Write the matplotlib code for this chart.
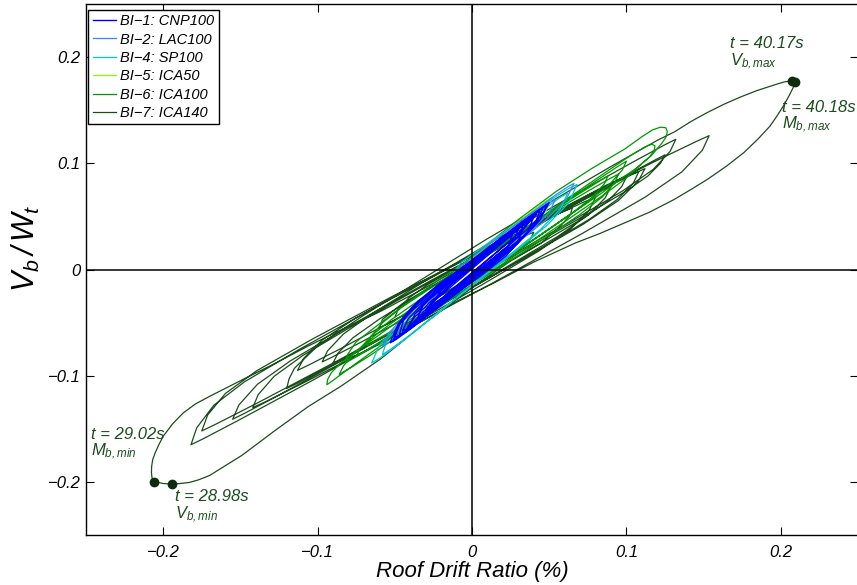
import matplotlib
matplotlib.use('Agg')
import matplotlib.pyplot as plt

plt.rcParams['font.family'] = ['Liberation Sans', 'DejaVu Sans']
plt.rcParams['font.style'] = 'italic'
plt.rcParams['mathtext.fontset'] = 'custom'
plt.rcParams['mathtext.it'] = 'Liberation Sans:italic'
plt.rcParams['mathtext.rm'] = 'Liberation Sans:italic'

labels = ['BI−1: CNP100', 'BI−2: LAC100', 'BI−4: SP100', 'BI−5: ICA50', 'BI−6: ICA100', 'BI−7: ICA140']
colors = ['#0000ff', '#3388ff', '#00c8cc', '#80ff00', '#009900', '#1a4d1a']

bi1 = [
(0.0,0.0),
(0.0045,0.0117),(0.0105,0.0184),(0.018,0.0264),(0.0255,0.0344),
(0.030,0.038),
(0.0274,0.0287),(0.0203,0.0175),(0.0073,0.0021),(-0.009,-0.0166),(-0.0253,-0.0354),(-0.0324,-0.0429),
(-0.035,-0.045),
(-0.0318,-0.0335),(-0.0232,-0.02),(-0.0074,-0.0015),(0.0124,0.021),(0.0322,0.0435),(0.0408,0.0525),
(0.044,0.055),
(0.0401,0.041),(0.0295,0.0244),(0.0101,0.0014),(-0.0142,-0.0266),(-0.0385,-0.0546),(-0.0491,-0.0658),
(-0.053,-0.069),
(-0.049,-0.0548),(-0.0379,-0.0376),(-0.0177,-0.0136),(0.0076,0.0156),(0.0329,0.0449),(0.044,0.0566),
(0.048,0.060),
(0.0443,0.047),(0.034,0.0313),(0.0155,0.0093),(-0.0078,-0.0174),(-0.0311,-0.0442),(-0.0413,-0.055),
(-0.045,-0.058),
(-0.0416,-0.0469),(-0.0323,-0.0328),(-0.0153,-0.0125),(0.006,0.0122),(0.0273,0.037),(0.0366,0.0471),
(0.040,0.050),
(0.0364,0.0356),(0.0265,0.0199),(0.0085,-0.0009),(-0.014,-0.0262),(-0.0365,-0.0515),(-0.0464,-0.0614),
(-0.050,-0.064),
(-0.0462,-0.0493),(-0.0356,-0.0327),(-0.0164,-0.0103),(0.0076,0.017),(0.0316,0.0443),(0.0422,0.0551),
(0.046,0.058),
(0.0426,0.0461),(0.0331,0.0315),(0.0159,0.011),(-0.0056,-0.014),(-0.0271,-0.039),(-0.0366,-0.0491),
(-0.040,-0.052),
(-0.037,-0.0422),(-0.0288,-0.0296),(-0.0138,-0.0116),(0.005,0.0104),(0.0238,0.0324),(0.032,0.0414),
(0.035,0.044),
(0.0325,0.0355),(0.0256,0.025),(0.013,0.01),(-0.0028,-0.0082),(-0.0186,-0.0265),(-0.0255,-0.0338),
(-0.028,-0.036),
(-0.0199,-0.0196),(-0.0091,-0.0067),(0.0044,0.009),(0.0179,0.0248),
(0.026,0.033),
(0.0231,0.0202),(0.015,0.0069),(0.0005,-0.0101),(-0.0178,-0.0306),(-0.036,-0.0511),(-0.043,-0.059),
(-0.047,-0.061),
(-0.044,-0.046),(-0.035,-0.03),(-0.02,-0.012),(0.0,0.008),(0.01,0.015),
(0.02,0.0285),(0.03,0.0395),(0.036,0.046),
(0.038,0.048),
(0.0348,0.0409),(0.026,0.0285),(0.01,0.0086),(-0.01,-0.0162),(-0.03,-0.041),(-0.0388,-0.0515),
(-0.042,-0.055),
(-0.0383,-0.0465),(-0.0282,-0.0323),(-0.0098,-0.0094),(0.0132,0.0188),(0.0362,0.0471),(0.0463,0.0591),
(0.050,0.063),
(0.046,0.0525),(0.0349,0.0365),(0.0147,0.0115),(-0.0106,-0.0192),(-0.0359,-0.05),(-0.047,-0.0628),
(-0.051,-0.067),
(-0.0476,-0.0506),(-0.0384,-0.0346),(-0.0216,-0.0152),(-0.0006,0.008),(0.0204,0.0313),(0.0296,0.04),
(0.033,0.042),
(0.0302,0.027),(0.0224,0.0132),(0.0082,-0.003),(-0.0096,-0.0222),(-0.0274,-0.0415),(-0.0352,-0.0486),
(-0.038,-0.050),
(-0.026,-0.0317),(-0.01,-0.0117),(0.01,0.013),(0.03,0.0378),
(0.042,0.052),
(0.0312,0.0353),(0.0168,0.0175),(-0.0012,-0.0044),(-0.0192,-0.0265),
(-0.030,-0.039),
(-0.025,-0.029),(-0.012,-0.012),(0.0,0.002),
]

bi2 = [
(-0.020,-0.022),
(-0.0071,0.0035),(0.0101,0.0225),(0.0316,0.0458),(0.0531,0.0691),(0.0626,0.0784),
(0.066,0.081),
(0.061,0.0659),(0.0474,0.046),(0.0226,0.0172),(-0.0084,-0.018),(-0.0394,-0.0532),(-0.053,-0.0677),
(-0.058,-0.072),
(-0.0535,-0.059),(-0.0412,-0.0413),(-0.0188,-0.0152),(0.0092,0.0168),(0.0372,0.0488),(0.0495,0.062),
(0.054,0.066),
(0.0499,0.0535),(0.0387,0.0371),(0.0183,0.0134),(-0.0072,-0.0156),(-0.0327,-0.0446),(-0.0439,-0.0565),
(-0.048,-0.060),
(-0.04,-0.045),(-0.02,-0.02),(0.0,0.003),
]

bi4 = [
(-0.020,-0.020),
(-0.0068,0.007),(0.0108,0.0252),(0.0328,0.0472),(0.0548,0.0692),(0.0645,0.0778),
(0.068,0.080),
(0.0627,0.0628),(0.048,0.0408),(0.0215,0.0093),(-0.0118,-0.0292),(-0.0451,-0.0677),(-0.0597,-0.0834),
(-0.065,-0.088),
(-0.0599,-0.0711),(-0.046,-0.05),(-0.0206,-0.0201),(0.0112,0.0164),(0.043,0.0529),(0.0569,0.0677),
(0.062,0.072),
(0.0572,0.0569),(0.044,0.0372),(0.02,0.0086),(-0.01,-0.0264),(-0.04,-0.0614),(-0.0532,-0.0757),
(-0.058,-0.080),
(-0.055,-0.066),(-0.04,-0.045),(-0.02,-0.02),(0.0,0.004),
]

bi5 = [
(-0.010,-0.010),
(-0.0007,0.0097),(0.0148,0.028),(0.0334,0.0491),(0.047,0.0638),
(0.052,0.068),
(0.0479,0.0552),(0.0367,0.0382),(0.0163,0.0133),(-0.0092,-0.0172),(-0.0347,-0.0477),(-0.0459,-0.0602),
(-0.050,-0.064),
(-0.0462,-0.0517),(-0.0357,-0.036),(-0.0168,-0.0135),(0.007,0.014),(0.0308,0.0415),(0.0412,0.0527),
(0.045,0.056),
(0.04,0.042),(0.02,0.018),(0.0,-0.008),(-0.02,-0.032),
]

bi6 = [
(-0.030,-0.030),
(-0.028,-0.024),(-0.022,-0.014),(-0.01,0.0),(0.005,0.018),(0.03,0.047),(0.055,0.074),(0.078,0.0955),
(0.099,0.1135),(0.110,0.125),(0.117,0.1315),(0.122,0.1340),
(0.1255,0.1335),
(0.1265,0.130),(0.1258,0.125),(0.123,0.119),(0.116,0.107),(0.106,0.095),(0.099,0.088),(0.085,0.073),
(0.07,0.058),(0.04,0.028),(0.0,-0.012),(-0.04,-0.052),(-0.07,-0.083),(-0.085,-0.099),(-0.091,-0.1055),
(-0.094,-0.1085),
(-0.0935,-0.1035),(-0.091,-0.097),(-0.085,-0.088),(-0.074,-0.076),(-0.05,-0.051),(-0.02,-0.019),
(0.02,0.024),(0.06,0.065),(0.09,0.095),(0.104,0.1085),(0.112,0.1155),(0.1165,0.118),
(0.1185,0.1165),
(0.118,0.112),(0.115,0.106),(0.110,0.0996),(0.099,0.085),(0.085,0.070),(0.07,0.055),(0.035,0.02),
(0.0,-0.014),(-0.035,-0.05),(-0.065,-0.08),(-0.078,-0.092),(-0.084,-0.097),
(-0.086,-0.099),
(-0.0832,-0.0906),(-0.0748,-0.0767),(-0.06,-0.0589),(-0.0339,-0.0313),(0.0033,0.0069),(0.0442,0.0479),(0.0777,0.0809),(0.0944,0.097),
(0.100,0.102),
(0.0974,0.0938),(0.0895,0.0808),(0.0755,0.0642),(0.051,0.0391),(0.016,0.0043),(-0.0225,-0.033),(-0.054,-0.0629),(-0.0698,-0.0775),
(-0.075,-0.082),
(-0.0726,-0.0744),(-0.0652,-0.0624),(-0.0522,-0.0472),(-0.0294,-0.0239),(0.0032,0.0082),(0.0391,0.0427),(0.0684,0.0704),(0.0831,0.0838),
(0.088,0.088),
(0.0857,0.0806),(0.0786,0.069),(0.0662,0.0546),(0.0443,0.0327),(0.0131,0.0026),(-0.0212,-0.0297),(-0.0493,-0.0556),(-0.0633,-0.0681),
(-0.068,-0.072),
(-0.0656,-0.0633),(-0.0582,-0.0504),(-0.0452,-0.0353),(-0.0224,-0.0133),(0.0102,0.0167),(0.0461,0.0487),(0.0754,0.0741),(0.0901,0.0862),
(0.095,0.090),
(0.0923,0.0814),(0.0844,0.0683),(0.0702,0.0521),(0.0454,0.0278),(0.01,-0.0055),(-0.0289,-0.0414),(-0.0608,-0.0699),(-0.0767,-0.0837),
(-0.082,-0.088),
(-0.0805,-0.080),(-0.075,-0.068),(-0.05,-0.04),(-0.02,-0.008),(0.02,0.03),
]

bi7 = [
(-0.050,-0.045),
(-0.0478,-0.0376),(-0.041,-0.0269),(-0.029,-0.0145),(-0.008,0.0034),(0.022,0.0278),(0.055,0.0536),(0.082,0.0742),(0.0955,0.084),
(0.100,0.087),
(0.097,0.0781),(0.0882,0.0647),(0.0724,0.0486),(0.0448,0.025),(0.0054,-0.0074),(-0.0379,-0.0421),(-0.0734,-0.0696),(-0.0911,-0.0829),
(-0.097,-0.087),
(-0.0936,-0.0767),(-0.0833,-0.0608),(-0.0649,-0.0417),(-0.0329,-0.0131),(0.0129,0.0261),(0.0633,0.068),(0.1045,0.1014),(0.1251,0.1176),
(0.132,0.1226),
(0.1283,0.1112),(0.1173,0.0942),(0.0977,0.0741),(0.0634,0.0446),(0.0144,0.0042),(-0.0395,-0.0391),(-0.0836,-0.0734),(-0.1057,-0.0899),
(-0.113,-0.095),
(-0.109,-0.0836),(-0.097,-0.0664),(-0.0757,-0.0461),(-0.0384,-0.016),(0.015,0.0251),(0.0736,0.0691),(0.1216,0.104),(0.1456,0.1208),
(0.1536,0.126),
(0.1492,0.1123),(0.1359,0.0919),(0.1122,0.0682),(0.0708,0.0334),(0.0117,-0.0141),(-0.0533,-0.0646),(-0.1065,-0.1048),(-0.1331,-0.1241),
(-0.142,-0.130),
(-0.1385,-0.1179),(-0.1281,-0.1005),(-0.1095,-0.0809),(-0.077,-0.0528),(-0.0306,-0.0146),(0.0204,0.026),(0.0622,0.058),(0.083,0.0734),
(0.090,0.078),
(0.0863,0.0675),(0.0753,0.0513),(0.0557,0.0313),(0.0214,0.0015),(-0.0276,-0.0396),(-0.0815,-0.0836),(-0.1256,-0.1187),(-0.1477,-0.1357),
(-0.155,-0.141),
(-0.151,-0.1276),(-0.139,-0.1081),(-0.1176,-0.086),(-0.0802,-0.054),(-0.0268,-0.0105),(0.0319,0.0356),(0.08,0.0722),(0.104,0.0897),
(0.112,0.095),
(0.1077,0.0832),(0.0948,0.0649),(0.0718,0.0424),(0.0316,0.0087),(-0.0258,-0.0376),(-0.0889,-0.0873),(-0.1406,-0.1269),(-0.1664,-0.146),
(-0.175,-0.152),
(-0.1712,-0.137),(-0.1597,-0.1167),(-0.1393,-0.0952),(-0.1036,-0.0657),(-0.0526,-0.0261),(0.0035,0.0155),(0.0494,0.0481),(0.0724,0.0635),
(0.080,0.068),
(0.0761,0.0564),(0.0643,0.0387),(0.0433,0.0174),(0.0066,-0.0143),(-0.0458,-0.0578),(-0.1034,-0.1045),(-0.1506,-0.1415),(-0.1741,-0.1594),
(-0.182,-0.165),
(-0.1783,-0.1491),(-0.1672,-0.1278),(-0.1474,-0.1058),(-0.1128,-0.076),(-0.0634,-0.0362),(-0.0091,0.0057),(0.0354,0.0382),(0.0576,0.0535),
(0.065,0.058),
(0.0635,0.051),(0.058,0.042),(0.045,0.025),(0.025,0.008),(0.0,-0.017),(-0.03,-0.05),(-0.059,-0.084),(-0.085,-0.110),
(-0.106,-0.129),(-0.127,-0.151),(-0.149,-0.175),(-0.160,-0.185),(-0.170,-0.194),(-0.177,-0.198),(-0.183,-0.2005),
(-0.189,-0.2015),(-0.194,-0.202),(-0.200,-0.2015),(-0.2058,-0.1997),
(-0.2072,-0.1965),(-0.2076,-0.1915),(-0.2075,-0.1855),(-0.2068,-0.179),(-0.2053,-0.173),(-0.2030,-0.1655),(-0.200,-0.157),
(-0.194,-0.1455),(-0.187,-0.135),(-0.179,-0.1265),(-0.170,-0.1195),(-0.149,-0.104),
(-0.127,-0.088),(-0.106,-0.072),(-0.085,-0.057),(-0.06,-0.040),(-0.03,-0.017),(0.0,0.008),(0.03,0.033),
(0.06,0.058),(0.085,0.078),(0.10,0.088),(0.1055,0.0908),
(0.108,0.092),
(0.1046,0.0817),(0.0943,0.0662),(0.0761,0.0474),(0.0442,0.0197),(-0.0014,-0.0184),(-0.0516,-0.0591),(-0.0926,-0.0915),(-0.1132,-0.1072),
(-0.120,-0.112),
(-0.1185,-0.103),(-0.115,-0.093),(-0.10,-0.072),(-0.07,-0.043),(-0.03,-0.007),(0.01,0.029),(0.05,0.063),(0.09,0.097),
(0.1205,0.122),(0.131,0.1295),(0.142,0.1395),(0.152,0.1475),(0.163,0.1555),(0.174,0.1625),(0.1846,0.1685),
(0.192,0.172),(0.198,0.1748),(0.2025,0.1767),(0.2073,0.1777),(0.2092,0.1770),
(0.2095,0.1755),(0.2086,0.173),(0.2055,0.164),(0.2017,0.154),(0.1975,0.1445),(0.193,0.135),(0.185,0.1225),(0.176,0.110),
(0.165,0.0975),(0.1526,0.085),(0.142,0.0755),(0.131,0.066),(0.115,0.054),(0.099,0.044),(0.083,0.034),(0.067,0.025),
(0.04,0.007),(0.015,-0.012),(-0.01,-0.03),(-0.04,-0.055),(-0.07,-0.078),(-0.083,-0.085),
(-0.090,-0.088),
(-0.0868,-0.0788),(-0.0771,-0.0643),(-0.0599,-0.0466),(-0.0298,-0.0198),(0.0132,0.017),(0.0605,0.0565),(0.0992,0.088),(0.1186,0.1032),
(0.125,0.108),
(0.1222,0.1002),(0.1139,0.088),(0.0991,0.0732),(0.0732,0.051),(0.0362,0.0204),(-0.0045,-0.0123),(-0.0378,-0.0384),(-0.0545,-0.0511),
(-0.060,-0.055),
(-0.058,-0.047),(-0.045,-0.032),(-0.01,-0.002),(0.025,0.026),(0.038,0.034),(0.040,0.035),(0.038,0.029),(0.03,0.018),(0.0,-0.008),
]

series = [bi1, bi2, bi4, bi5, bi6, bi7]

# extreme events (drift %, Vb/Wt)
peak_x = [0.2073, 0.2092, -0.194, -0.2058]
peak_y = [0.1777, 0.1770, -0.202, -0.1997]
peak_text = ['t = 40.17s\n$V_{b,max}$', 't = 40.18s\n$M_{b,max}$',
             't = 28.98s\n$V_{b,min}$', 't = 29.02s\n$M_{b,min}$']
text_x = [0.1670, 0.2006, -0.1923, -0.2468]
text_y = [0.2195, 0.1600, -0.2070, -0.1480]

xticks = [-0.2, -0.1, 0, 0.1, 0.2]
yticks = [-0.2, -0.1, 0, 0.1, 0.2]
ticklabels = ['−0.2', '−0.1', '0', '0.1', '0.2']

fig = plt.figure(figsize=(8.57, 5.85), dpi=100)
ax = fig.add_axes([86/857, 50/585, 772/857, 531/585])

zorders = [8, 7, 6, 5, 4, 3]
widths = [1.0, 0.9, 0.9, 0.9, 0.9, 0.9]
handles = []
for pts, lab, col, z, w in zip(series, labels, colors, zorders, widths):
    xs = [p[0] for p in pts]
    ys = [p[1] for p in pts]
    h, = ax.plot(xs, ys, color=col, lw=w, label=lab, zorder=z)
    handles.append(h)

ax.axhline(0, color='black', lw=1.1, zorder=9)
ax.axvline(0, color='black', lw=1.1, zorder=9)

ax.plot(peak_x, peak_y, 'o', color='#0d2b0d', ms=6, zorder=11, linestyle='none')
for tx, ty, s in zip(text_x, text_y, peak_text):
    ax.text(tx, ty, s, color='#1a4d1a', fontsize=12, ha='left', va='top', linespacing=1.0, zorder=12)

ax.set_xlim(-0.25, 0.25)
ax.set_ylim(-0.25, 0.25)
ax.set_xticks(xticks)
ax.set_yticks(yticks)
ax.set_xticklabels(ticklabels)
ax.set_yticklabels(ticklabels)
ax.tick_params(direction='in', top=True, right=True, length=6, width=0.8, labelsize=12)
ax.tick_params(axis='x', pad=7)
ax.tick_params(axis='y', pad=4)
for sp in ax.spines.values():
    sp.set_linewidth(1.0)

ax.set_xlabel('Roof Drift Ratio (%)', fontsize=16, labelpad=1)
ax.set_ylabel(r'$V_{b}\,/\,W_{t}$', fontsize=22)
ax.yaxis.set_label_coords(-0.057, 0.54)

leg = ax.legend(handles=handles, loc='upper left', bbox_to_anchor=(0.003, 0.989), borderaxespad=0,
                fontsize=10.5, fancybox=False, framealpha=1, edgecolor='black', handlelength=1.6,
                handletextpad=0.3, labelspacing=0.30, borderpad=0.3)
leg.get_frame().set_linewidth(1.0)

fig.savefig('out.png', dpi=100)
